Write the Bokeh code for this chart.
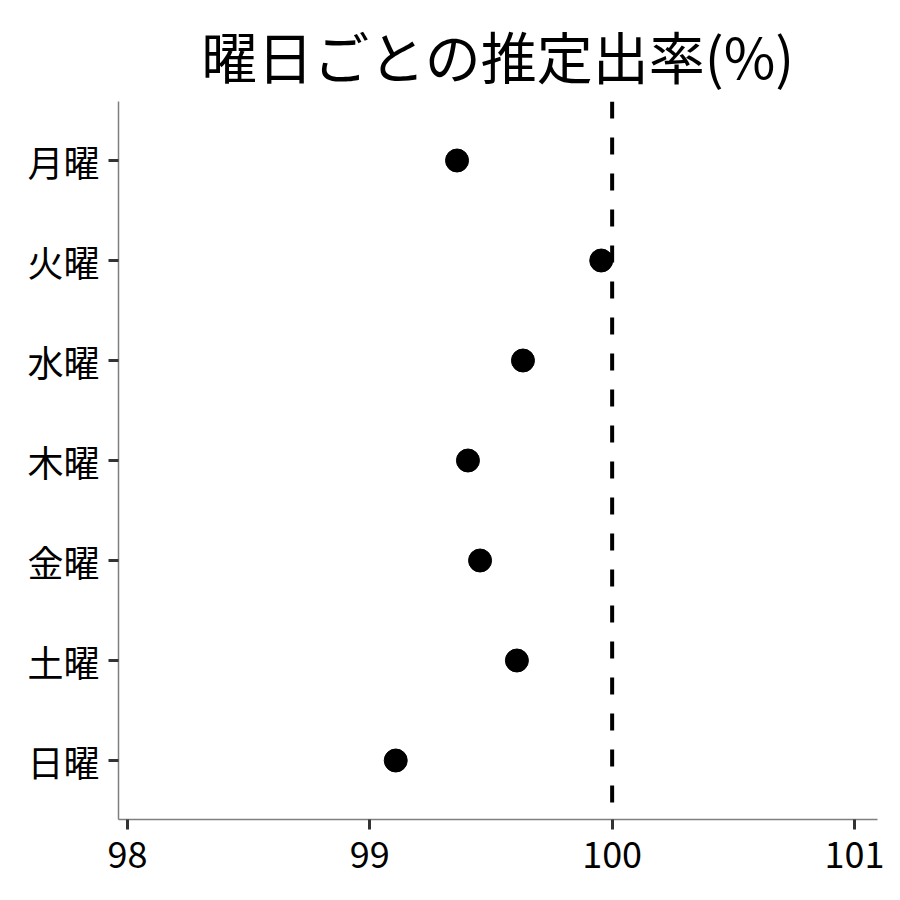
from bokeh.plotting import figure
from bokeh.models import Range1d, FixedTicker, Span, ColumnDataSource
from bokeh.embed import file_html
from bokeh.resources import INLINE

days = ["月曜", "火曜", "水曜", "木曜", "金曜", "土曜", "日曜"]
rates = [99.36, 99.955, 99.632, 99.405, 99.455, 99.607, 99.107]
x_ticks = [98, 99, 100, 101]
ref_value = 100
title_text = "曜日ごとの推定出率(%)"

FONT = "Noto Sans CJK JP"

n = len(days)
ypos = [n - i for i in range(n)]
src = ColumnDataSource(dict(x=rates, y=ypos, day=days))

p = figure(width=892, height=892, output_backend="svg", toolbar_location=None,
           x_range=Range1d(97.963, 101.095), y_range=Range1d(0.41, n + 0.59),
           min_border_left=118, min_border_right=15, min_border_top=101,
           min_border_bottom=73)

p.title.text = title_text
p.title.align = "center"
p.title.text_font = FONT
p.title.text_font_size = "56px"
p.title.text_font_style = "normal"
p.title.text_color = "black"
p.title.standoff = 14

p.xgrid.visible = False
p.ygrid.visible = False
p.outline_line_color = None

p.xaxis.ticker = FixedTicker(ticks=x_ticks)
p.yaxis.ticker = FixedTicker(ticks=ypos)
p.yaxis.major_label_overrides = {float(y): d for y, d in zip(ypos, days)}
p.yaxis.major_label_overrides.update({int(y): d for y, d in zip(ypos, days)})

for ax in (p.xaxis[0], p.yaxis[0]):
    ax.axis_line_color = "#7f7f7f"
    ax.axis_line_width = 1.5
    ax.major_tick_line_color = "#333333"
    ax.major_tick_line_width = 3
    ax.major_tick_out = 10
    ax.major_tick_in = 0
    ax.minor_tick_line_color = None
    ax.major_label_text_font = FONT
    ax.major_label_text_font_size = "36px"
    ax.major_label_text_color = "black"

p.xaxis.major_label_standoff = 12
p.yaxis.major_label_standoff = 9

span = Span(location=ref_value, dimension="height", line_color="black",
            line_width=4, line_dash="17 19")
p.add_layout(span)

p.scatter("x", "y", source=src, size=23, fill_color="black", line_color="black")

open("out.html", "w").write(file_html(p, INLINE))
